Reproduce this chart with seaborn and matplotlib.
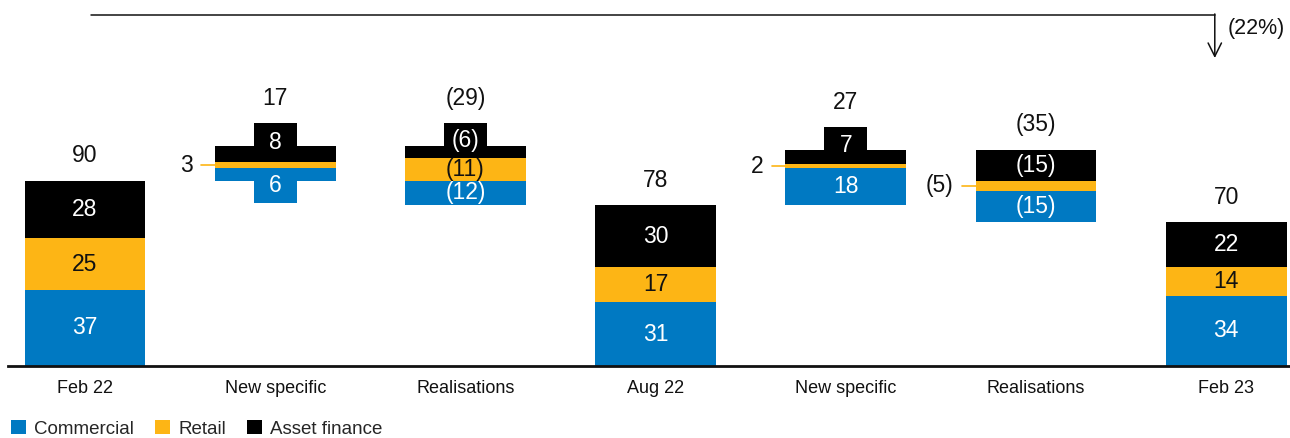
import numpy as np
import pandas as pd
import matplotlib
matplotlib.use("Agg")
import matplotlib.pyplot as plt
from matplotlib.patches import Patch
import seaborn as sns

# --- data ---
periods = ["Feb 22", "New specific", "Realisations", "Aug 22", "New specific", "Realisations", "Feb 23"]
commercial = [37, 6, -12, 31, 18, -15, 34]
retail = [25, 3, -11, 17, 2, -5, 14]
asset_finance = [28, 8, -6, 30, 7, -15, 22]
is_total = [True, False, False, True, False, False, True]
change_label = "(22%)"

segment_names = ["Commercial", "Retail", "Asset finance"]
colors = ["#0079C2", "#FDB515", "#000000"]
text_colors = ["white", "#111111", "white"]


def fmt(v):
    return f"({abs(v)})" if v < 0 else f"{v}"


sns.set_theme(style="white")
plt.rcParams["font.family"] = ["Liberation Sans", "DejaVu Sans"]

segs = np.array([commercial, retail, asset_finance])
totals = segs.sum(axis=0)
n = len(periods)

# waterfall base for each column
base = []
level = 0
for t, tot in zip(is_total, totals):
    if t:
        base.append(0)
        level = tot
    elif tot >= 0:
        base.append(level)
        level += tot
    else:
        level += tot
        base.append(level)
base = np.array(base, dtype=float)

heights = np.abs(segs).astype(float)
bottoms = base + np.vstack([np.zeros(n), np.cumsum(heights, axis=0)[:-1]])

fig = plt.figure(figsize=(12.9, 4.38), dpi=100)
ax = fig.add_axes([8 / 1290, 72 / 438, 1282 / 1290, 366 / 438])

bar_w = 0.636
tab_w = 0.226
tab_h = 11

for i, name in enumerate(segment_names):
    df = pd.DataFrame({"pos": np.arange(n), "value": heights[i]})
    sns.barplot(data=df, x="pos", y="value", bottom=bottoms[i], color=colors[i],
                saturation=1, width=bar_w, errorbar=None, linewidth=0, ax=ax)

col_top = bottoms[-1] + heights[-1]
for j in range(n):
    top = col_top[j]
    for i in range(3):
        h, b, v = heights[i, j], bottoms[i, j], segs[i, j]
        if is_total[j] or h >= 10:
            ax.text(j, b + h / 2, fmt(v), ha="center", va="center", fontsize=16.5,
                    color=text_colors[i])
        elif i == 2:
            ax.bar(j, tab_h, width=tab_w, bottom=b + h, color=colors[i], linewidth=0)
            ax.text(j, (b + b + h + tab_h) / 2, fmt(v), ha="center", va="center",
                    fontsize=16.5, color=text_colors[i])
            top = max(top, b + h + tab_h)
        elif i == 0:
            ax.bar(j, tab_h, width=tab_w, bottom=b - tab_h, color=colors[i], linewidth=0)
            ax.text(j, (b - tab_h + b + h) / 2, fmt(v), ha="center", va="center",
                    fontsize=16.5, color=text_colors[i])
        else:
            left = j - bar_w / 2
            ax.plot([left - 0.07, left], [b + h / 2] * 2, color=colors[i], lw=1.2)
            ax.text(left - 0.115, b + h / 2, fmt(v), ha="right", va="center",
                    fontsize=16.5, color="#111111")
    ax.text(j, top + 12, fmt(totals[j]), ha="center", va="center", fontsize=16.5,
            color="#111111")

# overall change bracket
ax.plot([0.03, n - 1.06], [170.4, 170.4], color="#111111", lw=1.1)
ax.annotate("", xy=(n - 1.06, 149.5), xytext=(n - 1.06, 170.9),
            arrowprops=dict(arrowstyle="->", color="#111111", lw=1.1,
                            mutation_scale=24, shrinkA=0, shrinkB=0))
ax.text(n - 0.99, 164, change_label, ha="left", va="center", fontsize=15.5, color="#111111")

ax.set_xlim(-77 / 190.2, 1205 / 190.2)
ax.set_ylim(0, 366 / 2.06)
ax.set_xticks(range(n))
ax.set_xticklabels(periods)
ax.tick_params(axis="x", length=0, pad=10, labelsize=13, colors="#111111")
ax.set_yticks([])
ax.set_xlabel("")
ax.set_ylabel("")
for s in ["left", "right", "top"]:
    ax.spines[s].set_visible(False)
ax.spines["bottom"].set_color("#111111")
ax.spines["bottom"].set_linewidth(2)
ax.patch.set_alpha(0)

handles = [Patch(facecolor=c, edgecolor="none", label=nm) for c, nm in zip(colors, segment_names)]
fig.legend(handles=handles, loc="lower left", bbox_to_anchor=(0.004, -0.012), ncol=3,
           frameon=False, fontsize=13.5, handlelength=0.8, handleheight=0.8,
           handletextpad=0.45, columnspacing=1.1, borderaxespad=0.0, borderpad=0.3)

fig.savefig("out.png", dpi=100)
